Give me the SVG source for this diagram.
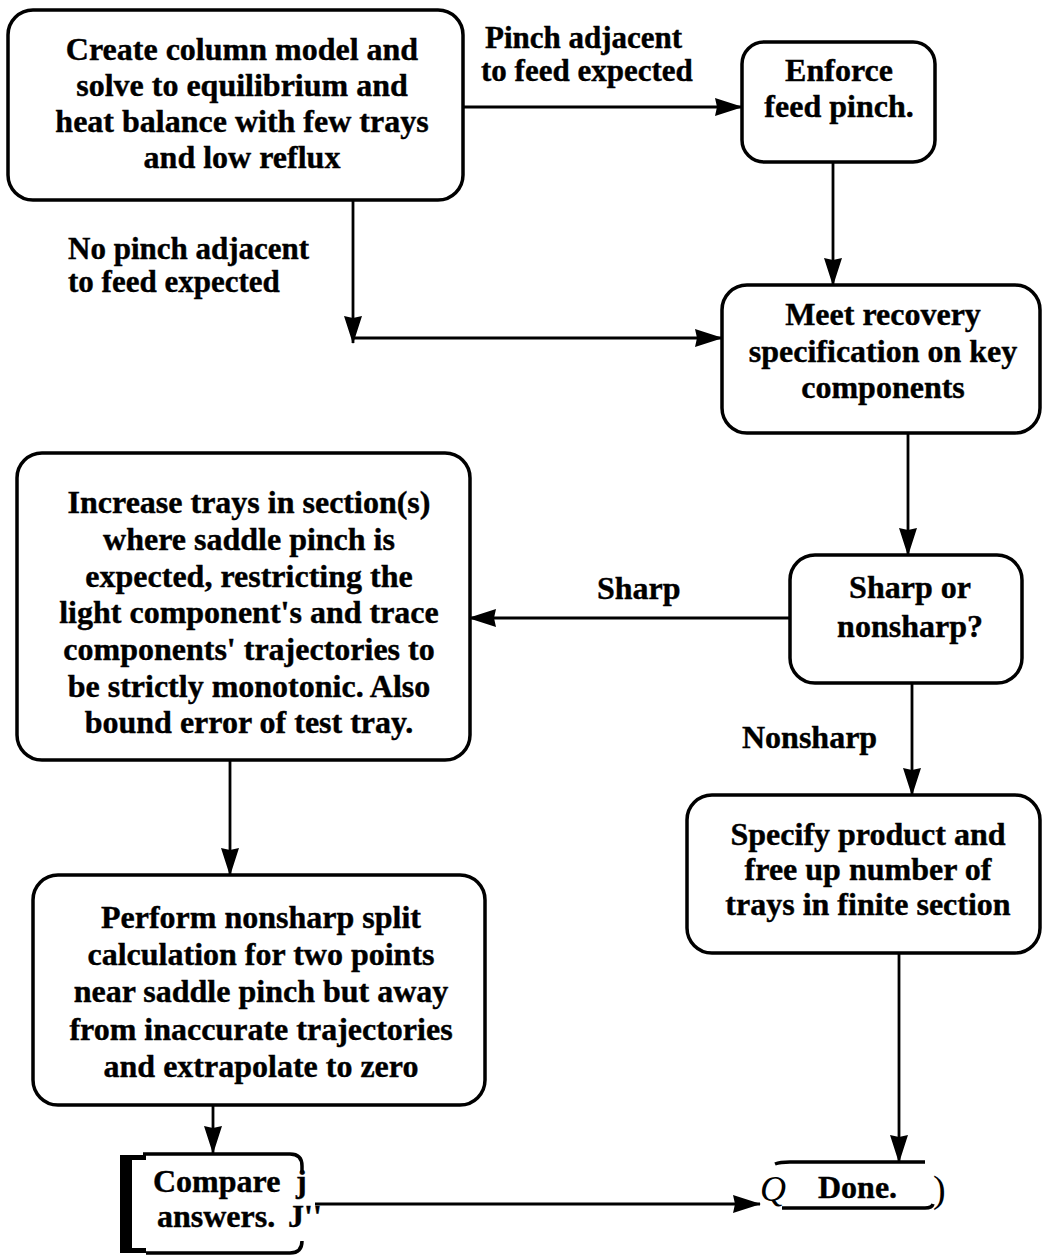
<svg xmlns="http://www.w3.org/2000/svg" width="1042" height="1257" viewBox="0 0 1042 1257">
<style>
.box{fill:#fff;stroke:#000;stroke-width:3.5}
.t{font-family:"Liberation Serif","Times New Roman",serif;font-weight:bold;font-size:32px;fill:#000;stroke:#000;stroke-width:0.4}
.lb{font-size:31px}
.c{text-anchor:middle}
.ln{fill:none;stroke:#000;stroke-width:2.8}
</style>
<defs>
<marker id="ah" markerUnits="userSpaceOnUse" viewBox="0 0 28 18" markerWidth="28" markerHeight="18" refX="27" refY="9" orient="auto">
<path d="M0,0 L28,9 L0,18 L2,9 z" fill="#000"/>
</marker>
</defs>
<rect width="1042" height="1257" fill="#fff"/>
<g id="connectors">
<path class="ln" d="M463,107 H742" marker-end="url(#ah)"/>
<path class="ln" d="M833,162 V285" marker-end="url(#ah)"/>
<path class="ln" d="M353,200 V343" marker-end="url(#ah)"/>
<path class="ln" d="M352,338 H722" marker-end="url(#ah)"/>
<path class="ln" d="M908,433 V555" marker-end="url(#ah)"/>
<path class="ln" d="M790,618 H469" marker-end="url(#ah)"/>
<path class="ln" d="M912,683 V795" marker-end="url(#ah)"/>
<path class="ln" d="M230,760 V875" marker-end="url(#ah)"/>
<path class="ln" d="M213,1105 V1153" marker-end="url(#ah)"/>
<path class="ln" d="M899,953 V1162" marker-end="url(#ah)"/>
<path class="ln" d="M315,1204 H760" marker-end="url(#ah)"/>
<text class="t lb" x="485" y="48">Pinch adjacent</text>
<text class="t lb" x="481" y="81">to feed expected</text>
<text class="t lb" x="68" y="259">No pinch adjacent</text>
<text class="t lb" x="68" y="292">to feed expected</text>
<text class="t" x="597" y="599">Sharp</text>
<text class="t" x="742" y="748">Nonsharp</text>
</g>
<g id="create">
<rect class="box" x="8" y="10" width="455" height="190" rx="25"/>
<text class="t c" x="242" y="60">Create column model and</text>
<text class="t c" x="242" y="96">solve to equilibrium and</text>
<text class="t c" x="242" y="132">heat balance with few trays</text>
<text class="t c" x="242" y="168">and low reflux</text>
</g>
<g id="enforce">
<rect class="box" x="742" y="42" width="193" height="120" rx="22"/>
<text class="t c" x="839" y="81">Enforce</text>
<text class="t c" x="839" y="117">feed pinch.</text>
</g>
<g id="meet">
<rect class="box" x="722" y="285" width="318" height="148" rx="25"/>
<text class="t c" x="883" y="325">Meet recovery</text>
<text class="t c" x="883" y="362">specification on key</text>
<text class="t c" x="883" y="398">components</text>
</g>
<g id="sharp">
<rect class="box" x="790" y="555" width="232" height="128" rx="25"/>
<text class="t c" x="910" y="598">Sharp or</text>
<text class="t c" x="910" y="637">nonsharp?</text>
</g>
<g id="increase">
<rect class="box" x="17" y="453" width="453" height="307" rx="25"/>
<text class="t c" x="249" y="513">Increase trays in section(s)</text>
<text class="t c" x="249" y="550">where saddle pinch is</text>
<text class="t c" x="249" y="587">expected, restricting the</text>
<text class="t c" x="249" y="623">light component's and trace</text>
<text class="t c" x="249" y="660">components' trajectories to</text>
<text class="t c" x="249" y="697">be strictly monotonic. Also</text>
<text class="t c" x="249" y="733">bound error of test tray.</text>
</g>
<g id="specify">
<rect class="box" x="687" y="795" width="353" height="158" rx="25"/>
<text class="t c" x="868" y="845">Specify product and</text>
<text class="t c" x="868" y="880">free up number of</text>
<text class="t c" x="868" y="915">trays in finite section</text>
</g>
<g id="perform">
<rect class="box" x="33" y="875" width="452" height="230" rx="25"/>
<text class="t c" x="261" y="928">Perform nonsharp split</text>
<text class="t c" x="261" y="965">calculation for two points</text>
<text class="t c" x="261" y="1002">near saddle pinch but away</text>
<text class="t c" x="261" y="1040">from inaccurate trajectories</text>
<text class="t c" x="261" y="1077">and extrapolate to zero</text>
</g>
<g id="compare">
<path d="M120,1155 H146 V1160 H132 V1248 H146 V1253 H120 z" fill="#000"/>
<path fill="none" stroke="#000" stroke-width="3.5" d="M143,1154 H290 Q302,1154 302,1166 V1172 M302,1241 Q302,1253 290,1253 H146"/>
<text class="t" x="153" y="1192">Compare</text>
<text class="t" x="296" y="1192">j</text>
<text class="t" x="157" y="1227">answers.</text>
<text class="t" x="288" y="1227">J''</text>
</g>
<g id="done">
<path fill="none" stroke="#000" stroke-width="3.5" d="M775,1164 Q780,1162 790,1162 H925 M782,1208 H925 Q932,1208 933,1204"/>
<text x="760" y="1201" font-family="Liberation Serif, serif" font-style="italic" font-size="36">Q</text>
<text class="t" x="818" y="1198">Done.</text>
<text x="933" y="1202" font-family="Liberation Serif, serif" font-size="38">)</text>
</g>
</svg>
